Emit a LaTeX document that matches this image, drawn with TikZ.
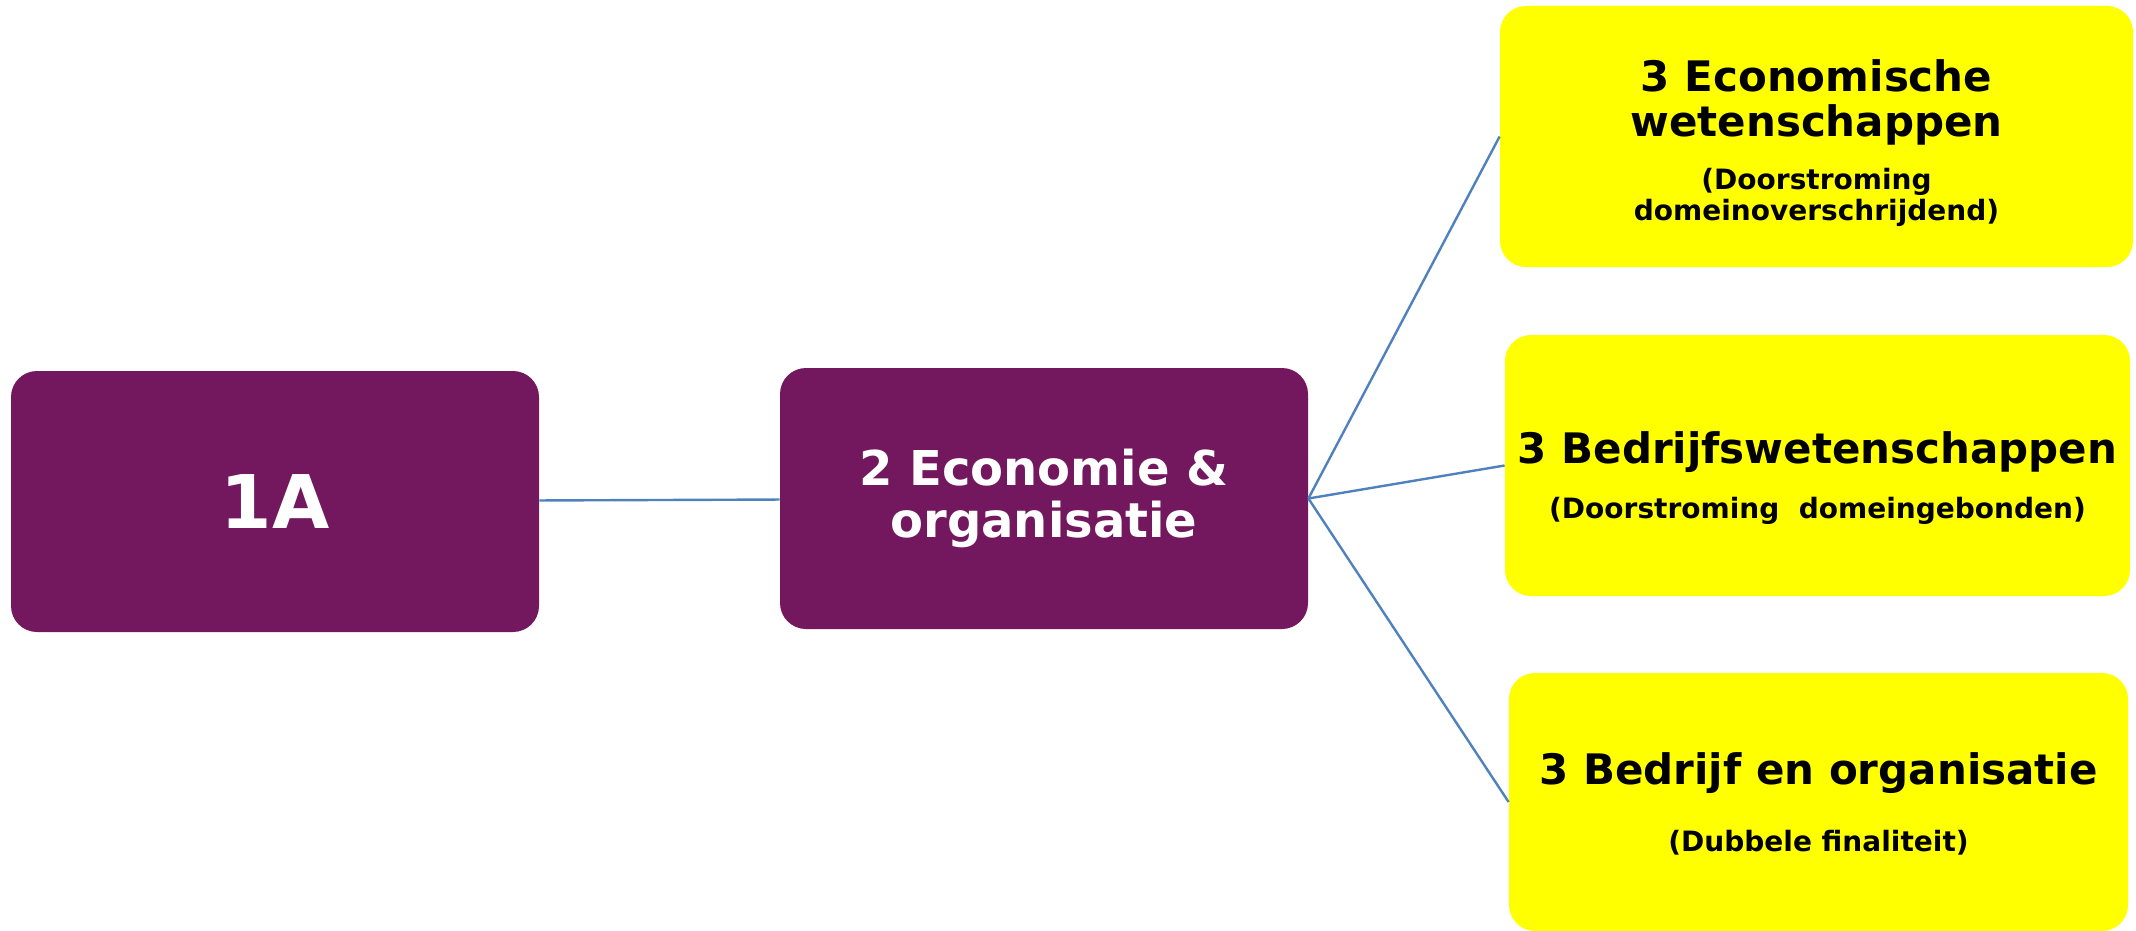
\documentclass[tikz,border=0pt]{standalone}
\usepackage{fontspec}
\setmainfont{DejaVu Sans}
\usepackage{xcolor}
\usetikzlibrary{positioning}

\definecolor{plum}{HTML}{73185E}
\definecolor{lemon}{HTML}{FFFF00}
\definecolor{linkblue}{HTML}{4F81BD}

\newcommand{\fontone}{\fontsize{37}{40}\selectfont\bfseries}
\newcommand{\fonttwo}{\fontsize{24}{26}\selectfont\bfseries}
\newcommand{\fonttitle}{\fontsize{21}{22.5}\selectfont\bfseries}
\newcommand{\fontsub}{\fontsize{14}{15}\selectfont\bfseries}
% invisible strut to push a text block down inside its box
\newcommand{\toppad}[1]{\rule{0pt}{#1}}

\begin{document}
\begin{tikzpicture}[x=0.5pt, y=-0.5pt,
    stage/.style={rectangle, rounded corners=13pt, inner sep=0pt, align=center},
    purplebox/.style={stage, fill=plum, text=white, minimum width=264pt, minimum height=130.5pt},
    yellowbox/.style={stage, fill=lemon, text=black, minimum height=130.5pt, font=\fonttitle},
    link/.style={draw=linkblue, line width=1.2pt}]
    \useasboundingbox (0,0) rectangle (2136,931);

    % eerste graad
    \node[purplebox, font=\fontone] (oneA) at (275,501.5) {1A};

    % tweede graad
    \node[purplebox, font=\fonttwo] (econorg) at (1044,498.5) {2 Economie \&\\organisatie};

    % derde graad
    \node[yellowbox, minimum width=316.5pt] (econwet) at (1816.5,136.5)
        {\toppad{22.5pt}3 Economische\\wetenschappen\\[4pt]\fontsub (Doorstroming\\[-6.8pt]\fontsub domeinoverschrijdend)};
    \node[yellowbox, minimum width=312.5pt] (bedrwet) at (1817.5,465.5)
        {\toppad{28.5pt}3 Bedrijfswetenschappen\\[4.7pt]\fontsub (Doorstroming\ \ domeingebonden)};
    \node[yellowbox, minimum width=309.5pt, minimum height=129pt] (bedrorg) at (1818.5,802)
        {\toppad{18pt}3 Bedrijf en organisatie\\[11pt]\fontsub (Dubbele finaliteit)};

    % verbindingen
    \draw[link] (oneA) -- (econorg);
    \draw[link] (econorg.east) -- (econwet.west);
    \draw[link] (econorg.east) -- (bedrwet.west);
    \draw[link] (econorg.east) -- (bedrorg.west);
\end{tikzpicture}
\end{document}
